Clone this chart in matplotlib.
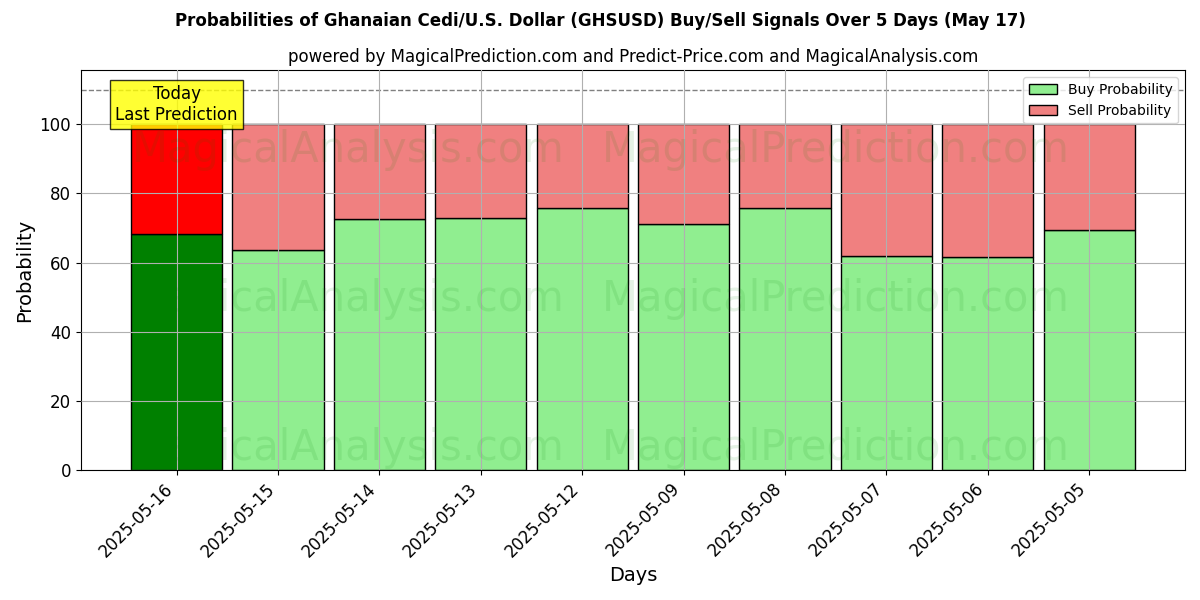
import matplotlib.pyplot as plt
from matplotlib.patches import Patch
import numpy as np

dates = ["2025-05-16", "2025-05-15", "2025-05-14", "2025-05-13", "2025-05-12",
         "2025-05-09", "2025-05-08", "2025-05-07", "2025-05-06", "2025-05-05"]
buy = [68.2, 63.6, 72.5, 72.8, 75.7, 71.1, 75.7, 61.8, 61.6, 69.4]
sell = [100 - b for b in buy]

fig, ax = plt.subplots(figsize=(12, 6), dpi=100)
x = np.arange(len(dates))
buy_colors = ["green"] + ["lightgreen"] * (len(dates) - 1)
sell_colors = ["red"] + ["lightcoral"] * (len(dates) - 1)

ax.bar(x, buy, width=0.9, color=buy_colors, edgecolor="black")
ax.bar(x, sell, width=0.9, bottom=buy, color=sell_colors, edgecolor="black")

# watermarks
for y in [92.5, 49.5, 6.4]:
    for xx, txt in [(0.242, "MagicalAnalysis.com"), (0.684, "MagicalPrediction.com")]:
        ax.text(xx, y / 115.6, txt, transform=ax.transAxes, fontsize=30, color="green",
                alpha=0.1, ha="center", va="center")

ax.axhline(110, color="gray", linestyle="--", linewidth=1)
ax.text(0, 105.8, "Today\nLast Prediction", ha="center", va="center", fontsize=12,
        bbox=dict(facecolor="yellow", alpha=0.8, edgecolor="black", boxstyle="square,pad=0.3"))

ax.set_ylim(0, 115.6)
ax.set_xticks(x)
ax.set_xticklabels(dates, rotation=45, ha="right", fontsize=12)
ax.tick_params(axis="y", labelsize=12)
ax.set_xlabel("Days", fontsize=14)
ax.set_ylabel("Probability", fontsize=14)
ax.grid(True)
ax.set_axisbelow(False)
ax.legend(handles=[Patch(facecolor="lightgreen", edgecolor="black", label="Buy Probability"),
                   Patch(facecolor="lightcoral", edgecolor="black", label="Sell Probability")],
          loc="upper right")
ax.set_title("powered by MagicalPrediction.com and Predict-Price.com and MagicalAnalysis.com", fontsize=12)
fig.suptitle("Probabilities of Ghanaian Cedi/U.S. Dollar (GHSUSD) Buy/Sell Signals Over 5 Days (May 17)",
             fontsize=12, fontweight="bold")
fig.tight_layout()
fig.savefig("out.png")
